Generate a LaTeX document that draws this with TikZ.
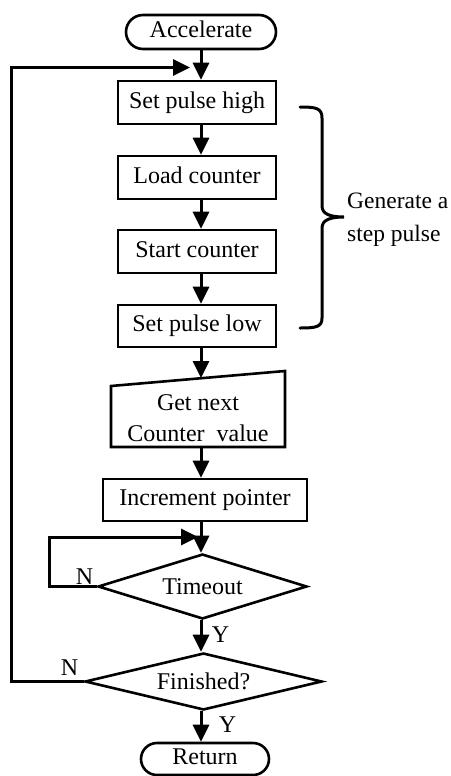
\documentclass[tikz,border=0pt]{standalone}
\usepackage{fontspec}
\setmainfont{Liberation Serif}
\usetikzlibrary{shapes.geometric,arrows.meta}

\begin{document}
\begin{tikzpicture}[x=1pt,y=-1pt,
  every node/.style={font=\fontsize{24}{31}\selectfont, inner sep=0pt},
  box/.style={draw, line width=2.6pt, minimum width=158pt, minimum height=43pt,
    text height=16pt, text depth=5pt},
  term/.style={draw, line width=2.6pt, minimum height=34pt, rounded corners=17pt,
    text height=16pt, text depth=5pt},
  decision/.style={diamond, draw, line width=2.6pt},
  flow/.style={line width=3pt},
  arr/.style={flow, -{Triangle[length=17pt,width=16pt]}},
  lbl/.style={font=\fontsize{24}{28}\selectfont}
]
\useasboundingbox (0,0) rectangle (450,776);

% main column
\coordinate (spine) at (201,0);
\node[term, minimum width=150pt] (acc) at (201,32) {Accelerate};
\node[box] (sph) at (197,102.5) {Set pulse high};
\node[box] (lc)  at (197,177.5) {Load counter};
\node[box] (sc)  at (197,251.5) {Start counter};
\node[box, minimum height=42pt] (spl) at (197,326) {Set pulse low};

% manual-input block
\coordinate (gtl) at (111,386);
\coordinate (gtr) at (285,371);
\coordinate (gbr) at (285,447);
\coordinate (gbl) at (111,447);
\draw[line width=2.6pt, line join=miter] (gtl) -- (gtr) -- (gbr) -- (gbl) -- cycle;
\coordinate (gtop) at (201,378);
\node[align=center] (gnc) at (198,418) {Get next\\Counter\ \ value};

\node[box, minimum width=204pt, minimum height=42pt] (ip) at (205,500) {Increment pointer};
\node[decision, minimum width=209pt, minimum height=65pt, shape aspect=3.2] (to) at (202.5,586.5) {Timeout};
\node[decision, minimum width=237pt, minimum height=57pt, shape aspect=4.1] (fin) at (203.5,681.5) {Finished?};
\node[term, minimum width=128pt, minimum height=32pt, rounded corners=16pt] (ret) at (205,759) {Return};

% straight connectors
\draw[arr] (acc.south -| spine) -- (sph.north -| spine);
\draw[arr] (sph.south -| spine) -- (lc.north -| spine);
\draw[arr] (lc.south -| spine) -- (sc.north -| spine);
\draw[arr] (sc.south -| spine) -- (spl.north -| spine);
\draw[arr] (spl.south -| spine) -- (gtop);
\draw[arr] (gbl -| spine) -- (ip.north -| spine);
\draw[arr] (ip.south -| spine) -- (to.north -| spine);
\draw[arr] (to.south -| spine) -- (fin.north -| spine);
\draw[arr] (fin.south -| spine) -- (ret.north -| spine);

% loop-back connectors
\coordinate (lp2) at (198,537);
\coordinate (lp1) at (190,67.5);
\draw[arr, line join=miter] (to.west) -- ++(-47,0) |- (lp2);
\draw[arr, line join=miter] (fin.west) -- ++(-72,0) |- (lp1);

% branch labels
\node[lbl] (n1) at (84.5,576.5) {N};
\node[lbl] (y1) at (220.5,635) {Y};
\node[lbl] (n2) at (69.5,667.5) {N};
\node[lbl] (y2) at (227.5,725) {Y};

% brace grouping the pulse steps
\draw[line width=3pt, line cap=round]
  (300,107) .. controls (316,107) and (322,108) .. (322,118)
  -- (322,206) .. controls (322,214) and (330,217) .. (344,217)
  .. controls (330,217) and (322,220) .. (322,228)
  -- (322,318) .. controls (322,327) and (316,328) .. (300,328);
\node[align=left, anchor=west, font=\fontsize{23.5}{33}\selectfont] (gen) at (347,220) {Generate a\\step pulse};
\end{tikzpicture}
\end{document}
